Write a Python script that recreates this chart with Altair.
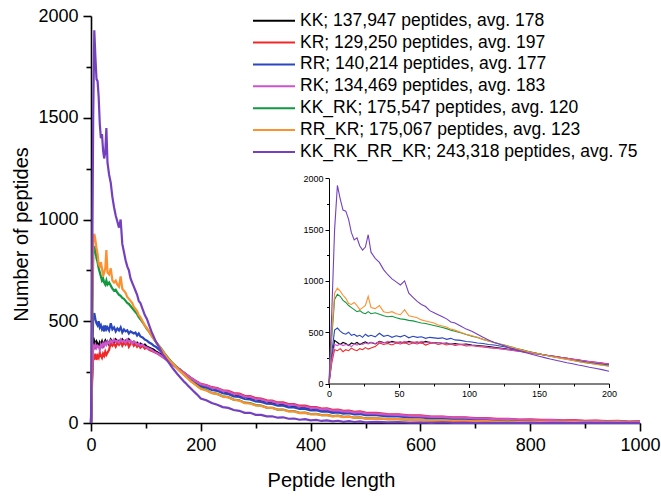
import altair as alt
import pandas as pd

FONT = "Liberation Sans"

# ---------------- data ----------------
x_len = ([0, 2, 4, 6, 8, 10, 12, 14, 16, 18, 20, 22, 24, 26, 28, 30]
         + [33, 36, 39, 42, 45, 48, 51, 54, 57, 60, 63, 66, 69, 72, 75, 78, 81, 84, 87, 90]
         + [94, 98, 102, 106, 110, 114, 118, 122, 126, 130, 134, 138, 142, 146, 150,
            154, 158, 162, 166, 170, 174, 178, 182, 186, 190]
         + [195, 200]
         + [210, 220, 230, 240, 250, 260, 270, 280, 290, 300, 310, 320, 330, 340, 350,
            360, 370, 380, 390, 400, 410, 420, 430, 440, 450, 460, 470, 480, 490, 500]
         + [520, 540, 560, 580, 600, 620, 640, 660, 680, 700, 720, 740, 760, 780, 800,
            820, 840, 860, 880, 900, 920, 940, 960, 980, 1000])

kk = ([0, 250, 420, 400, 380, 400, 390, 370, 395, 385, 400, 380, 395, 405, 390, 400]
      + [385, 410, 400, 395, 410, 400, 405, 395, 410, 400, 405, 395, 410, 400, 395, 400, 390, 395, 385, 390]
      + [380, 385, 375, 370, 365, 360, 352, 345, 338, 330, 322, 314, 305, 296, 288,
         278, 270, 262, 252, 245, 236, 228, 220, 212, 205]
      + [196, 188]
      + [180, 174, 162, 158, 146, 143, 132, 130, 120, 118, 108, 107, 98, 97, 89,
         89, 81, 81, 73, 74, 66, 67, 60, 61, 55, 56, 50, 52, 46, 47]
      + [43, 38, 37, 32, 31, 27, 27, 23, 23, 19, 19, 16, 16, 13, 14,
         11, 12, 9, 10, 7, 9, 6, 7, 5, 6])

kr = ([0, 200, 330, 320, 340, 310, 330, 320, 345, 330, 320, 340, 330, 350, 335, 345]
      + [360, 395, 380, 390, 375, 395, 385, 400, 380, 395, 385, 400, 375, 390, 395, 380, 390, 375, 385, 370]
      + [380, 365, 370, 360, 355, 350, 345, 340, 332, 325, 318, 310, 302, 294, 286,
         278, 270, 262, 254, 246, 238, 230, 222, 215, 208]
      + [200, 192]
      + [187, 176, 172, 161, 158, 147, 144, 134, 132, 122, 120, 111, 110, 101, 101,
         93, 93, 85, 85, 78, 78, 71, 72, 65, 66, 60, 61, 55, 57, 51]
      + [50, 44, 43, 38, 37, 32, 32, 28, 28, 24, 24, 20, 21, 17, 18,
         15, 16, 13, 14, 11, 12, 9, 10, 7, 9])

rr = ([0, 300, 520, 540, 510, 490, 480, 500, 470, 480, 460, 470, 450, 480, 460, 470]
      + [455, 490, 460, 470, 450, 465, 455, 470, 445, 460, 450, 455, 440, 450, 445, 440, 445, 430, 440, 425]
      + [420, 410, 405, 395, 390, 380, 375, 365, 355, 345, 335, 325, 312, 300, 290,
         278, 268, 258, 248, 240, 230, 222, 214, 206, 198]
      + [190, 180]
      + [174, 162, 158, 146, 142, 131, 128, 118, 116, 106, 104, 95, 94, 85, 85,
         77, 77, 69, 69, 62, 63, 56, 57, 50, 52, 46, 48, 42, 44, 38]
      + [38, 33, 32, 27, 27, 23, 23, 19, 19, 16, 16, 13, 14, 11, 12,
         9, 10, 7, 9, 6, 7, 5, 6, 4, 5])

rk = ([0, 230, 380, 370, 385, 370, 380, 375, 360, 385, 375, 390, 380, 395, 385, 400]
      + [390, 405, 395, 410, 400, 405, 395, 410, 400, 405, 395, 410, 400, 405, 390, 400, 395, 385, 390, 380]
      + [385, 375, 370, 365, 360, 352, 346, 340, 333, 326, 318, 310, 302, 294, 286,
         277, 269, 261, 253, 245, 237, 229, 221, 213, 206]
      + [198, 190]
      + [184, 173, 169, 158, 154, 143, 140, 130, 128, 118, 116, 107, 106, 97, 97,
         89, 89, 81, 81, 74, 74, 67, 68, 61, 62, 56, 57, 51, 53, 47]
      + [46, 41, 40, 35, 34, 30, 30, 26, 26, 22, 22, 18, 19, 16, 16,
         13, 14, 11, 12, 9, 10, 8, 9, 6, 8])

kk_rk = ([0, 450, 820, 870, 850, 810, 790, 760, 740, 720, 700, 710, 690, 680, 700, 680]
         + [690, 675, 660, 650, 655, 640, 630, 625, 615, 610, 600, 590, 585, 575, 565, 555, 545, 535, 520, 510]
         + [495, 478, 462, 448, 430, 415, 400, 385, 372, 358, 342, 328, 315, 302, 290,
            278, 266, 256, 246, 236, 226, 216, 206, 198, 190]
         + [180, 170]
         + [162, 148, 143, 131, 127, 115, 112, 100, 98, 88, 86, 76, 75, 66, 66,
            58, 58, 50, 51, 44, 45, 39, 40, 34, 36, 30, 32, 26, 28, 23]
         + [23, 19, 19, 15, 16, 12, 13, 10, 11, 8, 9, 6, 8, 5, 6,
            4, 5, 3, 5, 2, 4, 2, 3, 1, 2])

rr_kr = ([0, 500, 880, 930, 900, 860, 830, 780, 770, 790, 760, 720, 740, 760, 850, 740]
         + [730, 760, 700, 690, 700, 680, 670, 720, 660, 650, 640, 620, 610, 600, 590, 570, 560, 550, 530, 520]
         + [500, 480, 465, 450, 430, 415, 400, 385, 370, 355, 340, 325, 312, 300, 290,
            278, 265, 255, 245, 235, 225, 215, 205, 197, 188]
         + [178, 168]
         + [160, 148, 142, 130, 126, 114, 110, 98, 96, 86, 84, 75, 74, 65, 65,
            57, 57, 49, 50, 43, 44, 38, 39, 33, 35, 29, 31, 25, 28, 22]
         + [23, 19, 19, 15, 15, 12, 13, 10, 11, 8, 9, 6, 7, 5, 6,
            4, 5, 3, 4, 2, 4, 2, 3, 1, 2])

kk_rk_rr_kr = ([0, 700, 1500, 1930, 1800, 1690, 1680, 1600, 1470, 1400, 1420, 1340, 1300, 1330, 1450, 1280]
               + [1220, 1180, 1110, 1060, 1020, 990, 960, 1000, 880, 840, 800, 770, 750, 710, 690, 670, 650, 630, 600, 590]
               + [560, 530, 510, 480, 450, 425, 400, 382, 362, 340, 325, 310, 295, 280, 265,
                  252, 238, 226, 214, 202, 192, 180, 170, 158, 148]
               + [135, 120]
               + [112, 98, 90, 78, 74, 64, 60, 50, 50, 40, 40, 33, 33, 26, 28,
                  21, 22, 16, 19, 13, 15, 10, 13, 8, 11, 6, 9, 5, 8, 3]
               + [6, 3, 4, 2, 3, 1, 3, 1, 2, 0, 1, 0, 1, 0, 1,
                  0, 1, 0, 0, 0, 1, 0, 0, 0, 0])

series_labels = [
    "KK; 137,947 peptides, avg. 178",
    "KR; 129,250 peptides, avg. 197",
    "RR; 140,214 peptides, avg. 177",
    "RK; 134,469 peptides, avg. 183",
    "KK_RK; 175,547 peptides, avg. 120",
    "RR_KR; 175,067 peptides, avg. 123",
    "KK_RK_RR_KR; 243,318 peptides, avg. 75",
]
series_values = [kk, kr, rr, rk, kk_rk, rr_kr, kk_rk_rr_kr]
series_colors = ["#000000", "#f02828", "#2a46c0", "#cc55cc", "#10993f", "#ff9030", "#7440c0"]

main_x_major = [0, 200, 400, 600, 800, 1000]
main_x_minor = [100, 300, 500, 700, 900]
main_y_major = [0, 500, 1000, 1500, 2000]
main_y_minor = [250, 750, 1250, 1750]
inset_x_major = [0, 50, 100, 150, 200]
inset_x_minor = [25, 75, 125, 175]
inset_y_major = [0, 500, 1000, 1500, 2000]
inset_y_minor = [250, 750, 1250, 1750]

# ---------------- tables ----------------
rows = []
for s, vals in enumerate(series_values):
    assert len(vals) == len(x_len), (s, len(vals), len(x_len))
    for x, v in zip(x_len, vals):
        rows.append({"s": s, "x": x, "v": v})
df = pd.DataFrame(rows)
legend_df = pd.DataFrame({"row": list(range(len(series_labels))), "label": series_labels})

W, H = 549, 407
MAIN_X = dict(domain=[0, 1000], nice=False)
MAIN_Y = dict(domain=[0, 2000], nice=False)
INSET_X = dict(domain=[0, 200], nice=False, range=[238, 518])
INSET_Y = dict(domain=[0, 2000], nice=False, range=[367.5, 162.3])


def major_axis(values, orient, size, font_size, width, offset=0, **kw):
    return alt.Axis(values=values, orient=orient, offset=offset, tickSize=size,
                    grid=False, domainColor="black", domainWidth=width, tickColor="black",
                    tickWidth=width, labelColor="black", labelFont=FONT,
                    labelFontSize=font_size, labelFlush=False, labelOverlap=False,
                    format="d", **kw)


def minor_axis(values, orient, size, width, offset=0):
    return alt.Axis(values=values, orient=orient, offset=offset, tickSize=size,
                    grid=False, domain=False, labels=False, title=None,
                    tickColor="black", tickWidth=width)


base = alt.Chart(df)
layers = []

# main lines
for s in range(len(series_values)):
    first = s == 0
    layers.append(
        base.transform_filter(alt.datum.s == s)
        .mark_line(strokeWidth=2.2, color=series_colors[s])
        .encode(
            x=alt.X("x:Q", scale=alt.Scale(**MAIN_X),
                    axis=major_axis(main_x_major, "bottom", 8, 18, 1.6,
                                    title="Peptide length", titleFont=FONT,
                                    titleFontWeight="normal", titleColor="black",
                                    titleFontSize=20, labelPadding=5, titleX=240, titleY=63,
                                    titleBaseline="alphabetic") if first else None),
            y=alt.Y("v:Q", scale=alt.Scale(**MAIN_Y),
                    axis=major_axis(main_y_major, "left", 8, 18, 1.6,
                                    title="Number of peptides", titleFont=FONT,
                                    titleFontWeight="normal", titleColor="black",
                                    titleFontSize=20, labelPadding=5, titleY=218,
                                    titlePadding=6) if first else None),
        )
    )

# inset lines
for s in range(len(series_values)):
    first = s == 0
    layers.append(
        base.transform_filter((alt.datum.s == s) & (alt.datum.x <= 200))
        .mark_line(strokeWidth=1.1, color=series_colors[s])
        .encode(
            x=alt.X("x:Q", scale=alt.Scale(**INSET_X),
                    axis=major_axis(inset_x_major, "bottom", 4, 9, 1, offset=-39.5,
                                    title=None, labelPadding=2) if first else None),
            y=alt.Y("v:Q", scale=alt.Scale(**INSET_Y),
                    axis=major_axis(inset_y_major, "left", 4, 9, 1, offset=-238,
                                    title=None, labelPadding=2) if first else None),
        )
    )


# minor ticks (invisible points carrying an extra axis each)
def minor_layer(values, channel, scale, axis):
    d = pd.DataFrame({"t": values})
    enc = {channel: (alt.X if channel == "x" else alt.Y)("t:Q", scale=alt.Scale(**scale), axis=axis)}
    return alt.Chart(d).mark_point(opacity=0).encode(**enc)


layers.append(minor_layer(main_x_minor, "x", MAIN_X, minor_axis(main_x_minor, "bottom", 5, 1.6)))
layers.append(minor_layer(main_y_minor, "y", MAIN_Y, minor_axis(main_y_minor, "left", 5, 1.6)))
layers.append(minor_layer(inset_x_minor, "x", INSET_X,
                          minor_axis(inset_x_minor, "bottom", 2.5, 1, offset=-39.5)))
layers.append(minor_layer(inset_y_minor, "y", INSET_Y,
                          minor_axis(inset_y_minor, "left", 2.5, 1, offset=-238)))

# legend
leg_y = alt.Y("row:Q", scale=alt.Scale(domain=[0, 6], range=[4.7, 136], nice=False), axis=None)
layers.append(
    alt.Chart(legend_df).mark_rule(strokeWidth=2).encode(
        x=alt.value(162), x2=alt.value(204), y=leg_y,
        color=alt.Color("label:N", scale=alt.Scale(domain=series_labels, range=series_colors),
                        legend=None),
    )
)
layers.append(
    alt.Chart(legend_df).mark_text(
        align="left", baseline="middle", font=FONT, fontSize=17.5, color="black"
    ).encode(x=alt.value(209), y=leg_y, text="label:N")
)

chart = (
    alt.layer(*layers)
    .resolve_scale(x="independent", y="independent")
    .properties(width=W, height=H, autosize=alt.AutoSizeParams(type="none"),
                padding={"left": 91, "top": 16, "right": 21, "bottom": 73},
                background="white")
    .configure_view(strokeWidth=0)
)

chart.save("out.html", embed_options={"renderer": "svg", "actions": False})
